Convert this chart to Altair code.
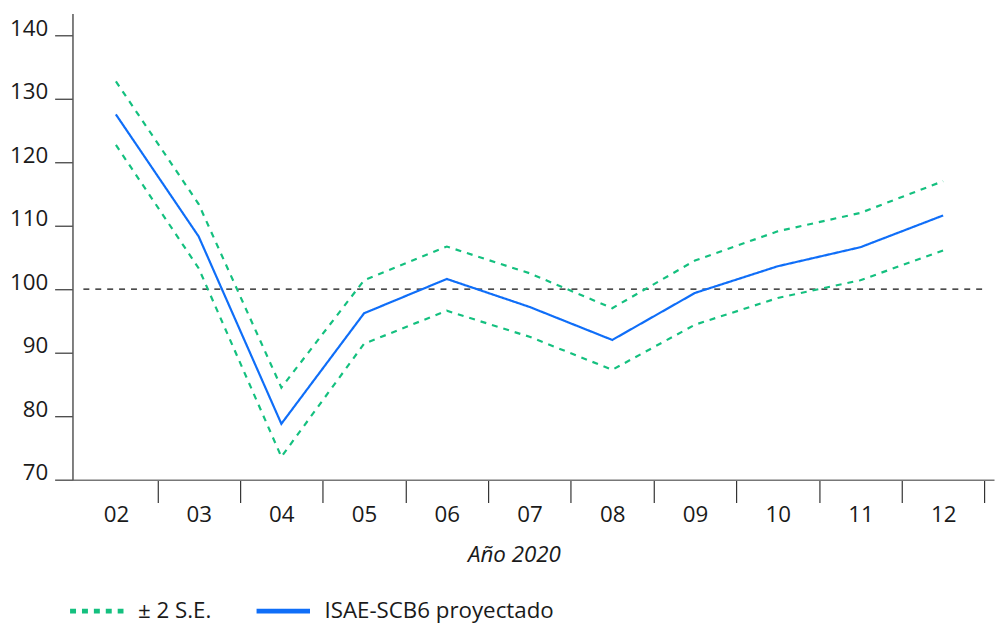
import altair as alt
import pandas as pd

months = [2, 3, 4, 5, 6, 7, 8, 9, 10, 11, 12]
central = [127.5, 108.3, 78.8, 96.2, 101.6, 97.2, 92.0, 99.4, 103.6, 106.6, 111.6]
upper = [132.7, 113.4, 84.5, 101.4, 106.7, 102.5, 97.0, 104.5, 109.1, 112.0, 117.0]
lower = [122.7, 103.3, 73.6, 91.4, 96.6, 92.5, 87.3, 94.4, 98.6, 101.4, 106.1]
y_ticks = [70, 80, 90, 100, 110, 120, 130, 140]
ref_value = 100

SE = "± 2 S.E."
ISAE = "ISAE-SCB6 proyectado"
GREEN = "#14c07f"
BLUE = "#0f6ef8"
FONT = "Open Sans"
TXT = "#1a1a1a"
FS = 22.5

rows = []
for m, c, u, l in zip(months, central, upper, lower):
    rows.append({"mes": m, "valor": u, "serie": SE, "linea": "sup"})
    rows.append({"mes": m, "valor": l, "serie": SE, "linea": "inf"})
    rows.append({"mes": m, "valor": c, "serie": ISAE, "linea": "cen"})
df = pd.DataFrame(rows)

xscale = alt.Scale(domain=[1.475, 12.615], nice=False, zero=False)
yscale = alt.Scale(domain=[70, 143.4], nice=False, zero=False)

lines = alt.Chart(df).mark_line().encode(
    x=alt.X("mes:Q", scale=xscale,
            axis=alt.Axis(values=months, tickOffset=41.72, labelOffset=-41.72,
                          labelExpr="datum.value < 10 ? '0' + datum.value : '' + datum.value",
                          tickSize=23, tickColor="#333", tickWidth=1.2,
                          domainColor="#777", domainWidth=1.5,
                          labelFontSize=FS, labelFont=FONT, labelColor=TXT,
                          labelPadding=1, grid=False,
                          title="Año 2020", titleFont=FONT, titleFontSize=FS,
                          titleFontStyle="italic", titleFontWeight="normal",
                          titleColor=TXT, titleX=445, titleY=82,
                          titleAlign="center", titleBaseline="alphabetic")),
    y=alt.Y("valor:Q", scale=yscale,
            axis=alt.Axis(values=y_ticks, tickSize=18, tickColor="#444", tickWidth=1.3,
                          domainColor="#555", domainWidth=1.5,
                          labelFontSize=FS, labelFont=FONT, labelColor=TXT,
                          labelPadding=7, labelBaseline="alphabetic",
                          grid=False, title=None)),
    color=alt.Color("serie:N", scale=alt.Scale(domain=[SE, ISAE], range=[GREEN, BLUE]),
                    legend=alt.Legend(title=None, orient="none", legendX=-5, legendY=573,
                                      direction="horizontal", symbolType="stroke",
                                      symbolStrokeWidth=5, symbolSize=2900,
                                      labelFontSize=FS, labelFont=FONT, labelColor=TXT,
                                      labelLimit=400,
                                      labelOffset=12, columnPadding=34, padding=0)),
    strokeDash=alt.StrokeDash("serie:N",
                              scale=alt.Scale(domain=[SE, ISAE], range=[[6, 6], [1, 0]]),
                              legend=None),
    strokeWidth=alt.value(2.2),
    detail="linea:N",
)

ref = alt.Chart(pd.DataFrame({"y": [ref_value]})).mark_rule(
    color="#111", strokeWidth=1.1, strokeDash=[6, 6]
).encode(y=alt.Y("y:Q", scale=yscale), x=alt.value(11), x2=alt.value(920))

chart = alt.layer(ref, lines).properties(
    width=929, height=470,
    autosize=alt.AutoSizeParams(type="none"),
    padding={"left": 65, "top": 3, "right": 2, "bottom": 146},
).configure_view(stroke=None)

chart.save("out.html", embed_options={"renderer": "svg", "actions": False})
